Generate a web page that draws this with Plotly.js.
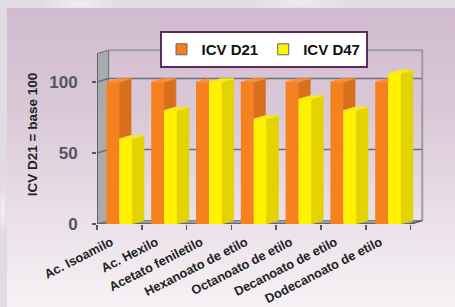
<!DOCTYPE html>
<html><head><meta charset="utf-8">
<script src="https://cdn.plot.ly/plotly-3.0.1.min.js"></script>
<style>
html,body{margin:0;padding:0;width:455px;height:307px;overflow:hidden;}
#bg{position:absolute;left:0;top:0;width:455px;height:307px;
 background:radial-gradient(ellipse 60px 20px at 80px 4px,#f2eef2,rgba(242,238,242,0) 70%),
 radial-gradient(ellipse 80px 15px at 300px 3px,#efeaef,rgba(239,234,239,0) 70%),
 radial-gradient(ellipse 6px 40px at 3px 210px,#f3f0f3,rgba(243,240,243,0) 70%),
 #e2dbe2;}
#panel{position:absolute;left:7px;top:8px;width:448px;height:299px;
 background:linear-gradient(#d2bbd0 0%,#dac8d7 35%,#e8dde6 65%,#f6f2f5 100%);}
#chart{position:absolute;left:0;top:0;width:455px;height:307px;}
</style></head>
<body><div id="bg"></div><div id="panel"></div><div id="chart"></div>
<script>
const categories = ["Ac. Isoamilo","Ac. Hexilo","Acetato feniletilo","Hexanoato de etilo","Octanoato de etilo","Decanoato de etilo","Dodecanoato de etilo"];
const icvD21 = [100,100,100,100,100,100,100];
const icvD47 = [60,80,100,74,88,80,106];
const seriesNames = ["ICV D21","ICV D47"];
const yTickValues = [0,50,100];

// 3D look settings (not data)
const W = 0.29, DX = 0.26, DV = 2.4, WALL = 120;
const N = categories.length;
const xL = -0.5, xR = N - 0.5;
const colors = {
  D21: {front:'#f5821f', side:'#d86f1c', top:'#f7913a'},
  D47: {front:'#fff200', side:'#e3d300', top:'#f6ea1a'}
};

function polyTrace(list, color){
  const xs=[], ys=[];
  list.forEach(p=>{ if(!p) return; p.forEach(q=>{xs.push(q[0]);ys.push(q[1]);}); xs.push(p[0][0]); ys.push(p[0][1]); xs.push(null); ys.push(null); });
  return {type:'scatter',mode:'lines',x:xs,y:ys,fill:'toself',fillcolor:color,
    line:{width:0.6,color:color},hoverinfo:'skip',showlegend:false};
}

const idx = categories.map((c,i)=>i);
const oSide=[], oTop=[], ySide=[], yTop=[];
idx.forEach(i=>{
  const vo = icvD21[i], vy = icvD47[i];
  const x0 = i - W, x1 = i, x2 = i + W;
  if (vy < vo) oSide.push([[x1,vy],[x1+DX,vy+DV],[x1+DX,vo+DV],[x1,vo]]);
  if (vy < vo) oTop.push([[x0,vo],[x1,vo],[x1+DX,vo+DV],[x0+DX,vo+DV]]);
  else oTop.push([[x0,vo],[x1,vo],[x1,vo+DV],[x0+DX,vo+DV]]);
  ySide.push([[x2,0],[x2+DX,DV],[x2+DX,vy+DV],[x2,vy]]);
  yTop.push([[x1,vy],[x2,vy],[x2+DX,vy+DV],[x1+DX,vy+DV]]);
});

const traces = [
  {type:'bar',x:idx,y:icvD21,width:W,offset:-W,marker:{color:colors.D21.front,line:{width:0}},name:seriesNames[0],showlegend:false,hoverinfo:'y'},
  {type:'bar',x:idx,y:icvD47,width:W,offset:0,marker:{color:colors.D47.front,line:{width:0}},name:seriesNames[1],showlegend:false,hoverinfo:'y'},
  polyTrace(oSide, colors.D21.side),
  polyTrace(oTop, colors.D21.top),
  polyTrace(ySide, colors.D47.side),
  polyTrace(yTop, colors.D47.top),
  {type:'scatter',mode:'markers',x:[null],y:[null],name:seriesNames[0],
   marker:{symbol:'square',size:11,color:colors.D21.front,line:{color:'#666',width:1}}},
  {type:'scatter',mode:'markers',x:[null],y:[null],name:seriesNames[1],
   marker:{symbol:'square',size:11,color:colors.D47.front,line:{color:'#666',width:1}}}
];

function P(pts){ return 'M' + pts.map(p=>p[0]+','+p[1]).join(' L') ; }
const shapes = [
  {type:'path',layer:'below',xref:'x',yref:'y',path:P([[xL,0],[xL+DX,DV],[xL+DX,WALL+DV],[xL,WALL]])+' Z',fillcolor:'#a9abae',line:{color:'#6f7174',width:1}},
  {type:'path',layer:'below',xref:'x',yref:'y',path:P([[xL,0],[xR,0],[xR+DX,DV],[xL+DX,DV]])+' Z',fillcolor:'#9c9ea1',line:{color:'#7a7c7f',width:1}},
  {type:'path',layer:'below',xref:'x',yref:'y',path:P([[xL+DX,WALL+DV],[xR+DX,WALL+DV],[xR+DX,DV]]),line:{color:'#9d9d9f',width:2}}
];
yTickValues.filter(v=>v>0).forEach(v=>{
  shapes.push({type:'path',layer:'below',xref:'x',yref:'y',path:P([[xL,v],[xL+DX,v+DV],[xR+DX,v+DV]]),line:{color:'#6e7073',width:1.5}});
});
shapes.push({type:'path',layer:'below',xref:'x',yref:'y',path:P([[xL,WALL],[xL,0],[xR,0],[xR+DX,DV]]),line:{color:'#55585c',width:1.5}});

const layout = {
  width:455,height:307,
  margin:{l:97,r:25,t:45,b:83},
  paper_bgcolor:'rgba(0,0,0,0)',plot_bgcolor:'rgba(0,0,0,0)',
  barmode:'overlay',
  font:{family:'"Liberation Sans", Arial, sans-serif',color:'#222'},
  xaxis:{range:[xL, xL + 333/44.8],showgrid:false,zeroline:false,showline:false,
    tickmode:'array',tickvals:idx,ticktext:categories,tickangle:-27,
    ticklabelshift:-8,ticklabelstandoff:1,
    ticks:'outside',ticklen:4,tickcolor:'rgba(0,0,0,0)',
    minor:{tickmode:'array',tickvals:idx.concat([N]).map(i=>i-0.5),ticks:'outside',ticklen:5,tickwidth:1.5,tickcolor:'#55585c',showgrid:false},
    tickfont:{size:12.8,color:'#222',weight:'bold'},fixedrange:true},
  yaxis:{range:[0,179/1.42],showgrid:false,zeroline:false,showline:false,
    tickmode:'array',tickvals:yTickValues,ticks:'outside',ticklen:4,tickwidth:1.5,tickcolor:'#55585c',
    ticklabelstandoff:11,
    tickfont:{size:17,color:'#52575c',weight:'bold'},
    title:{text:'ICV D21 = base 100',font:{size:13.5,color:'#222',weight:'bold'},standoff:8},fixedrange:true},
  legend:{orientation:'h',x:0.5,xanchor:'center',y:1.078,yanchor:'top',
    bgcolor:'#ffffff',bordercolor:'#5a2d5c',borderwidth:2,
    font:{size:15,color:'#111',weight:'bold'}},
  shapes:shapes
};
Plotly.newPlot('chart',traces,layout,{displayModeBar:false,staticPlot:true});
</script></body></html>
